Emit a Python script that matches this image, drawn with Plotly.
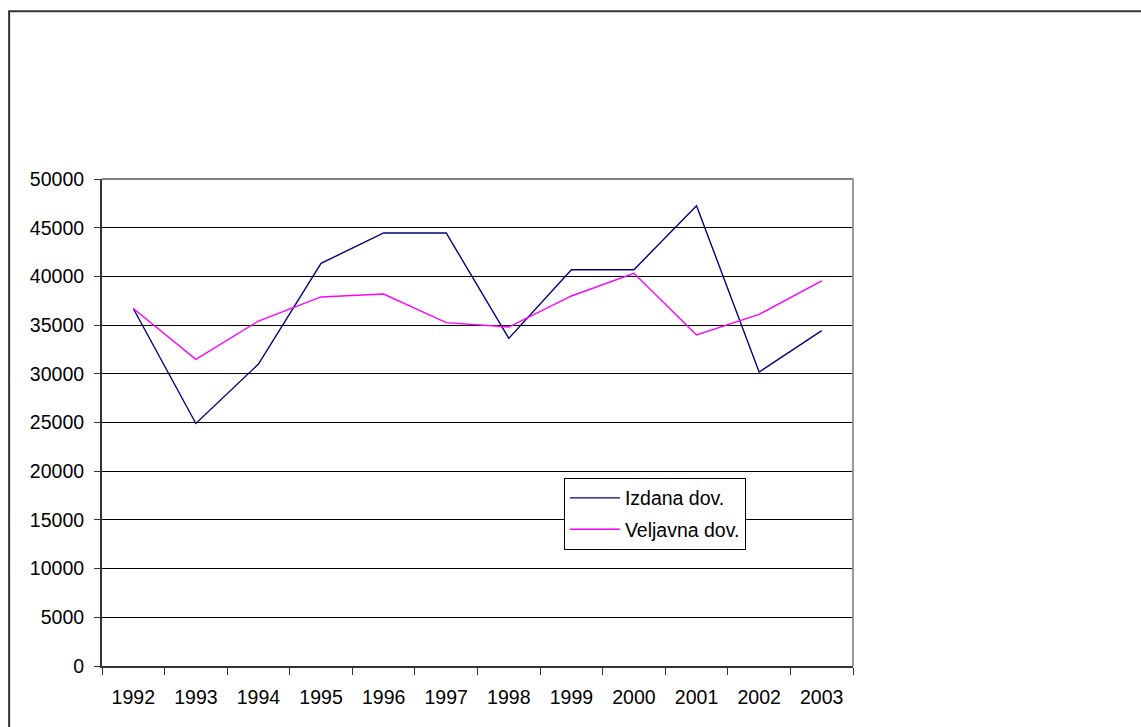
import plotly.graph_objects as go

years = ["1992", "1993", "1994", "1995", "1996", "1997", "1998", "1999", "2000", "2001", "2002", "2003"]
izdana = [36700, 24900, 31000, 41340, 44460, 44460, 33640, 40690, 40690, 47260, 30180, 34430]
veljavna = [36700, 31490, 35420, 37890, 38190, 35250, 34800, 37990, 40320, 33980, 36100, 39530]
y_ticks = [0, 5000, 10000, 15000, 20000, 25000, 30000, 35000, 40000, 45000, 50000]
y_labels = [str(v) for v in y_ticks]

W, H = 1141, 727
L, R, T, B = 101.5, 853.5, 179, 666.5
FS = 19.5

fig = go.Figure()
fig.add_trace(go.Scatter(x=years, y=izdana, mode="lines", name="Izdana dov.", legendgroup="a",
                         line=dict(color="#000080", width=1.4)))
fig.add_trace(go.Scatter(x=years, y=veljavna, mode="lines", name="Veljavna dov.", legendgroup="b",
                         line=dict(color="#FF00FF", width=1.4)))

pw, ph = R - L, B - T
def px(x): return (x - L) / pw
def py(y): return (B - y) / ph

fig.update_layout(
    width=W, height=H,
    margin=dict(l=L, r=W - R, t=T, b=H - B, pad=0),
    paper_bgcolor="white", plot_bgcolor="white",
    font=dict(family="Liberation Sans, Arial, sans-serif", size=FS, color="black"),
    showlegend=True,
    legend=dict(x=px(564), y=py(478), xanchor="left", yanchor="top",
                bordercolor="black", borderwidth=1, bgcolor="white",
                font=dict(size=FS), traceorder="grouped", tracegroupgap=3,
                itemwidth=50),
    xaxis=dict(type="category", range=[-0.5, len(years) - 0.5], tickson="boundaries",
               ticks="outside", ticklen=7,
               tickcolor="#333", showline=True, linecolor="#333", linewidth=2,
               showgrid=False, mirror=False, ticklabelstandoff=13,
               tickfont=dict(size=FS), fixedrange=True),
    yaxis=dict(range=[0, 50000], tickvals=y_ticks, ticktext=y_labels, ticks="outside", ticklen=6,
               tickcolor="#333", showline=True, linecolor="#333", linewidth=2,
               showgrid=True, gridcolor="black", gridwidth=1, zeroline=False,
               tickfont=dict(size=FS), ticklabelstandoff=6, fixedrange=True),
    shapes=[
        dict(type="line", xref="paper", yref="paper", x0=0, x1=1, y0=1, y1=1,
             line=dict(color="#808080", width=2)),
        dict(type="line", xref="paper", yref="paper", x0=1, x1=1, y0=0, y1=1,
             line=dict(color="#999999", width=2)),
        dict(type="rect", xref="paper", yref="paper",
             x0=px(8.5), x1=px(1160), y0=py(750), y1=py(11),
             line=dict(color="#333333", width=2), fillcolor="rgba(0,0,0,0)", layer="below"),
    ],
)

fig.write_html("out.html", config={"displayModeBar": False})
with open("out.html", "r", encoding="utf-8") as f:
    html = f.read()
html = html.replace("<head>", "<head><style>html,body{margin:0;padding:0;overflow:hidden;}</style>", 1)
with open("out.html", "w", encoding="utf-8") as f:
    f.write(html)
